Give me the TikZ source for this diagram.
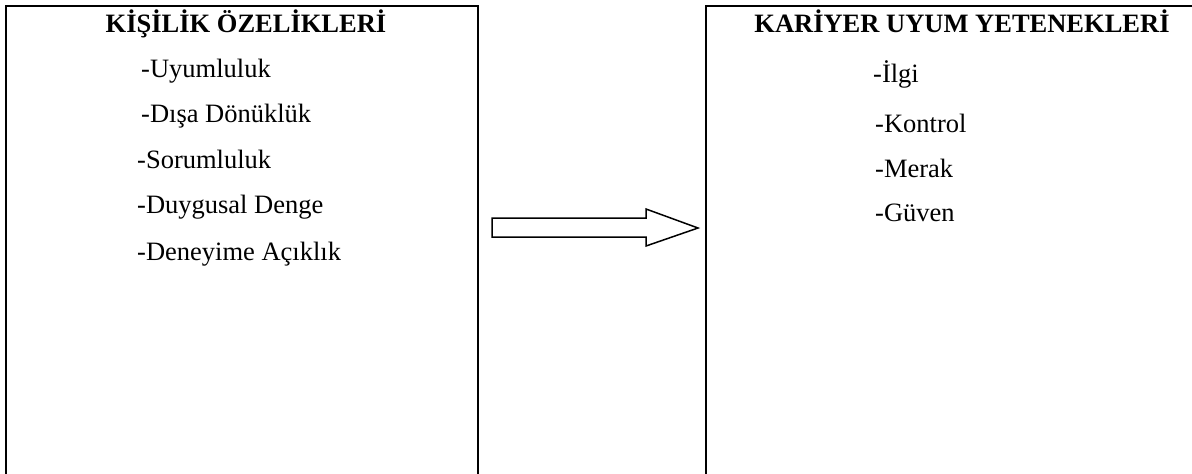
\documentclass[tikz,border=0pt]{standalone}
\usepackage{fontspec}
\setmainfont{Liberation Serif}
\usetikzlibrary{positioning}

\begin{document}
\begin{tikzpicture}[
    x=1pt, y=-1pt,
    panel/.style={rectangle, draw=black, line width=2pt, anchor=north west, inner sep=0pt},
    heading/.style={font=\fontsize{26.5}{30}\selectfont\bfseries, anchor=base, inner sep=0pt},
    item/.style={font=\fontsize{26.5}{30}\selectfont, anchor=base west, inner sep=0pt},
    blockarrow/.style={draw=black, line width=1.5pt, fill=white, line join=miter}
]
    \useasboundingbox (0,0) rectangle (1192,474);
    \clip (0,0) rectangle (1192,474);

    % Left panel
    \node[panel, minimum width=472pt, minimum height=500pt] (persBox) at (5,5) {};
    \node[heading] (persTitle) at (246,32) {KİŞİLİK ÖZELİKLERİ};
    \node[item] (agree) at (141,77) {-Uyumluluk};
    \node[item] (extra) at (141,122) {-Dışa Dönüklük};
    \node[item] (consc) at (137,168) {-Sorumluluk};
    \node[item] (emot) at (137,213) {-Duygusal Denge};
    \node[item] (open) at (137,260) {-Deneyime Açıklık};

    % Right panel
    \node[panel, minimum width=520pt, minimum height=500pt] (careerBox) at (705,5) {};
    \node[heading] (careerTitle) at (962,32) {KARİYER UYUM YETENEKLERİ};
    \node[item] (concern) at (873,82) {-İlgi};
    \node[item] (control) at (875,132) {-Kontrol};
    \node[item] (curious) at (875,177) {-Merak};
    \node[item] (confid) at (875,221) {-Güven};

    % Block arrow
    \draw[blockarrow] (492,218) -- (646,218) -- (646,209) -- (698,228)
        -- (646,246) -- (646,237) -- (492,237) -- cycle;
\end{tikzpicture}
\end{document}
